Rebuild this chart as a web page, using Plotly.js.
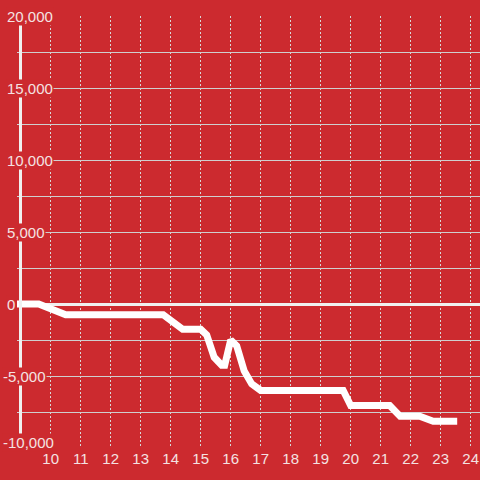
<!DOCTYPE html>
<html>
<head>
<meta charset="utf-8">
<script src="https://cdn.plot.ly/plotly-3.0.1.min.js"></script>
<style>
html,body{margin:0;padding:0;background:#cc2a2f;}
#chart{width:480px;height:480px;}
</style>
</head>
<body>
<div id="chart"></div>
<script>
// Data
var hours = [8.75, 9.6, 10.5, 13.75, 14.4, 15.0, 15.2, 15.45, 15.7, 15.8, 16.0, 16.2, 16.45, 16.7, 17.0, 19.75, 20.0, 21.3, 21.65, 22.3, 22.75, 23.55];
var values = [0, 0, -750, -750, -1750, -1750, -2150, -3700, -4250, -4250, -2500, -2900, -4650, -5550, -6000, -6000, -7050, -7050, -7800, -7800, -8150, -8150];
var xTickVals = [10, 11, 12, 13, 14, 15, 16, 17, 18, 19, 20, 21, 22, 23, 24];
var yTickVals = [20000, 15000, 10000, 5000, 0, -5000, -10000];
var yTickText = ['20,000', '15,000', '10,000', '5,000', '0', '-5,000', '-10,000'];

var BG = '#cc2a2f';
var TXT = '#f4e2e2';
var FONT = 'Liberation Sans, Arial, sans-serif';
var plotLeft = 17, plotWidth = 463;
var yMin = -10000, yMax = 20000;

var trace = {
  x: hours, y: values, type: 'scatter', mode: 'lines',
  line: {color: '#ffffff', width: 7},
  hoverinfo: 'skip'
};

var annotations = yTickVals.map(function (v, i) {
  var t = yTickText[i];
  var px = t.charAt(0) === '-' ? 1.5 : 6;
  return {
    xref: 'paper', yref: 'y', x: (px - plotLeft) / plotWidth, y: v,
    xanchor: 'left', yanchor: 'middle', text: t, showarrow: false,
    yshift: v === yMin ? 6 : 0,
    bgcolor: BG, borderpad: 0,
    font: {family: FONT, size: 15, color: TXT}
  };
});

var layout = {
  width: 480, height: 480,
  margin: {l: plotLeft, r: 0, t: 16, b: 32, pad: 0},
  paper_bgcolor: BG, plot_bgcolor: BG,
  showlegend: false,
  xaxis: {
    range: [10 - 33.7 / 30, 10 + 429.3 / 30],
    tickmode: 'array', tickvals: xTickVals,
    showgrid: true, gridcolor: '#d8d8d8', gridwidth: 1, griddash: '2px,2px',
    zeroline: false, showline: false, ticks: '',
    tickfont: {family: FONT, size: 15, color: TXT},
    fixedrange: true
  },
  yaxis: {
    range: [yMin, yMax],
    dtick: 2500, tick0: 0,
    showticklabels: false,
    showgrid: true, gridcolor: '#cfcfcf', gridwidth: 1,
    zeroline: true, zerolinecolor: '#f0f0f0', zerolinewidth: 3,
    showline: false, ticks: '',
    fixedrange: true
  },
  shapes: [{
    type: 'line', xref: 'paper', yref: 'paper',
    x0: (20.5 - plotLeft) / plotWidth, x1: (20.5 - plotLeft) / plotWidth,
    y0: 0, y1: 1,
    line: {color: '#f0f0f0', width: 3}, layer: 'above'
  }],
  annotations: annotations
};

Plotly.newPlot('chart', [trace], layout, {displayModeBar: false, staticPlot: true});
</script>
</body>
</html>
